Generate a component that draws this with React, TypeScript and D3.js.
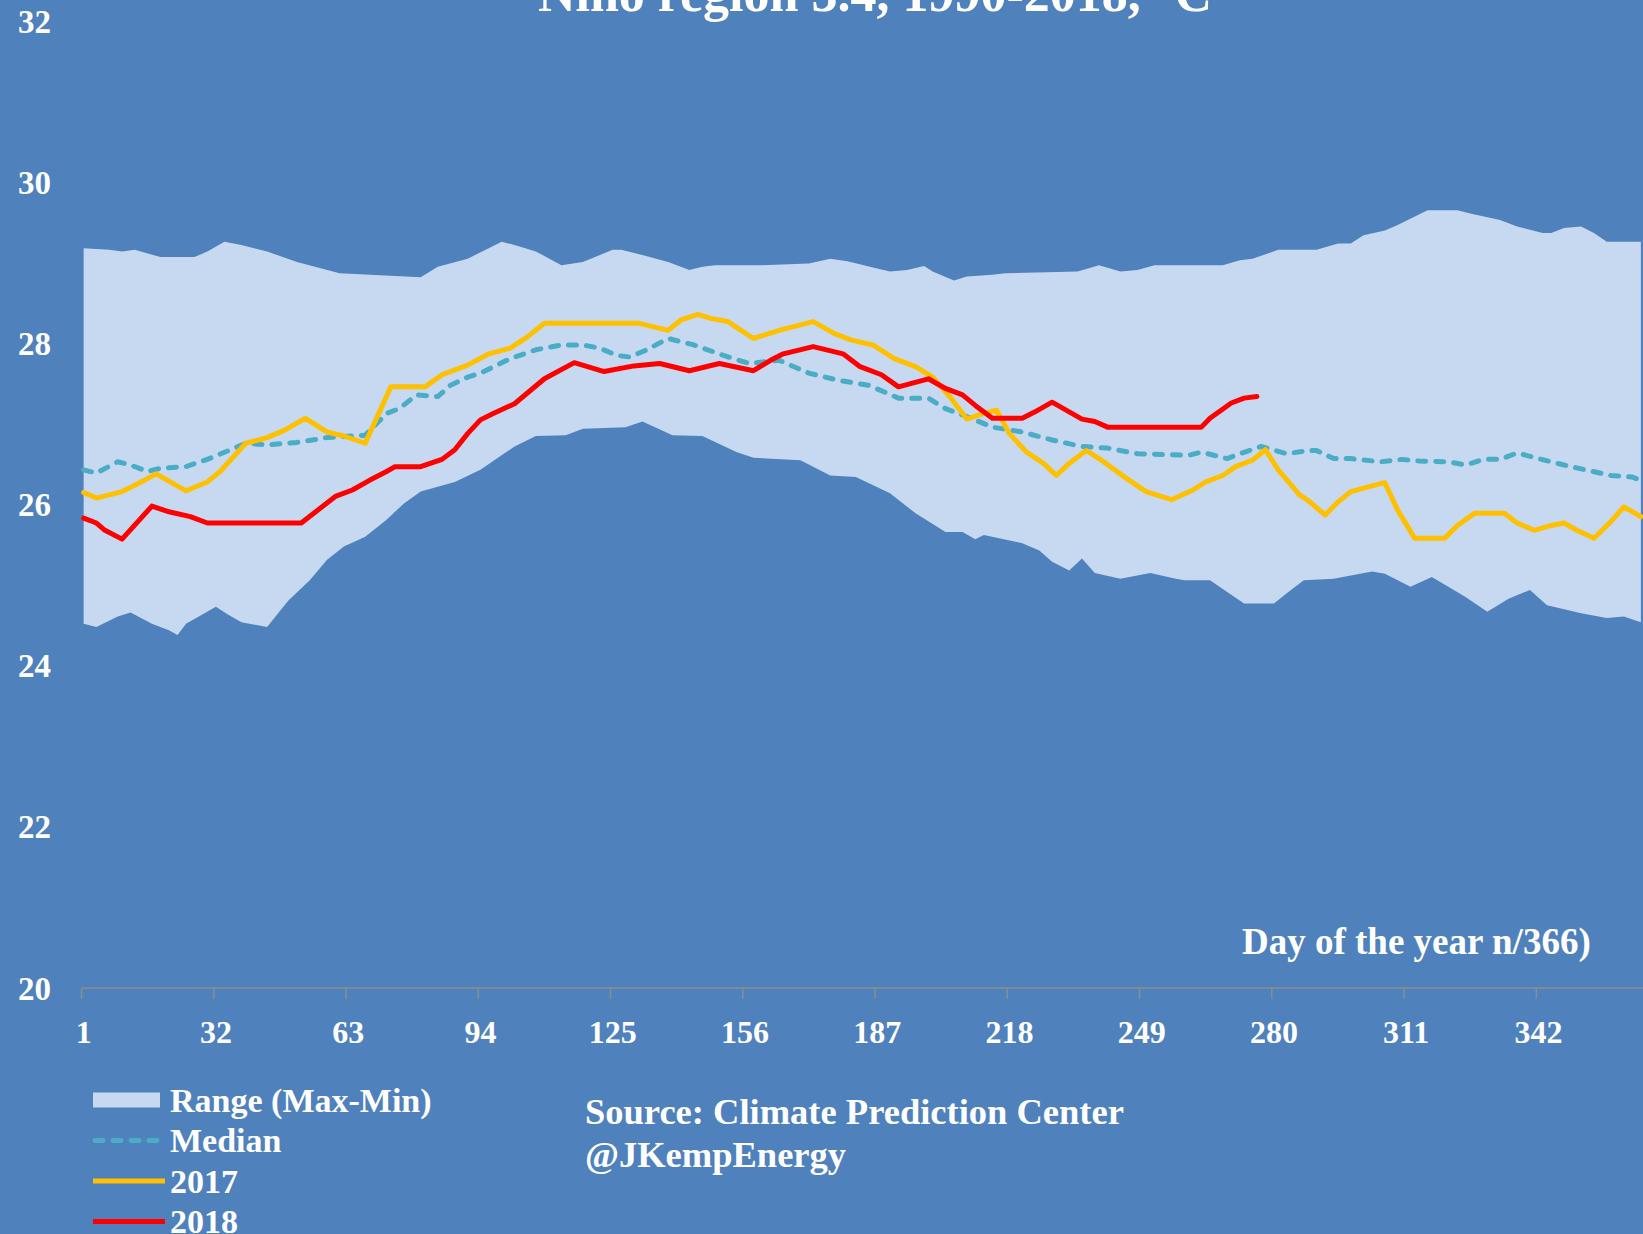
import * as d3 from 'd3'
import React from 'react'

const W = 1643
const H = 1234

// range band (day of year, °C)
const maxDays = [1, 7, 10, 13, 19, 27, 30, 34, 38, 44, 51, 61, 80, 84, 91, 99, 102, 107, 113, 118, 125, 127, 131, 138, 143, 146, 149, 160, 171, 176, 180, 187, 190, 194, 198, 200, 205, 208, 214, 217, 234, 239, 244, 248, 252, 268, 272, 275, 281, 290, 295, 298, 301, 306, 309, 316, 323, 326, 333, 337, 343, 345, 348, 352, 355, 358, 366]
const maxVals = [29.18, 29.16, 29.14, 29.16, 29.07, 29.07, 29.14, 29.26, 29.22, 29.14, 29.01, 28.87, 28.82, 28.95, 29.05, 29.26, 29.22, 29.14, 28.97, 29.01, 29.16, 29.16, 29.11, 29.01, 28.91, 28.95, 28.97, 28.97, 28.99, 29.05, 29.02, 28.93, 28.89, 28.91, 28.96, 28.89, 28.78, 28.83, 28.85, 28.87, 28.89, 28.97, 28.89, 28.91, 28.97, 28.97, 29.03, 29.05, 29.16, 29.16, 29.24, 29.24, 29.34, 29.40, 29.47, 29.65, 29.65, 29.61, 29.53, 29.45, 29.37, 29.37, 29.43, 29.45, 29.37, 29.26, 29.26]
const minDays = [1, 4, 9, 12, 17, 21, 23, 25, 28, 32, 35, 38, 44, 49, 54, 58, 62, 67, 72, 76, 80, 84, 88, 94, 102, 107, 114, 118, 128, 132, 139, 146, 154, 158, 169, 176, 182, 190, 196, 203, 207, 210, 212, 221, 225, 228, 232, 235, 238, 244, 251, 257, 259, 265, 273, 280, 283, 287, 294, 303, 306, 312, 317, 325, 330, 335, 340, 344, 352, 358, 362, 366]
const minVals = [24.52, 24.48, 24.61, 24.66, 24.52, 24.44, 24.38, 24.52, 24.61, 24.73, 24.63, 24.54, 24.48, 24.81, 25.06, 25.31, 25.48, 25.60, 25.81, 26.01, 26.16, 26.22, 26.28, 26.43, 26.72, 26.85, 26.86, 26.94, 26.96, 27.03, 26.86, 26.85, 26.65, 26.58, 26.55, 26.36, 26.34, 26.14, 25.89, 25.66, 25.66, 25.57, 25.62, 25.52, 25.43, 25.29, 25.18, 25.33, 25.15, 25.08, 25.15, 25.08, 25.06, 25.06, 24.77, 24.77, 24.90, 25.06, 25.08, 25.17, 25.14, 24.98, 25.10, 24.85, 24.67, 24.83, 24.94, 24.75, 24.65, 24.59, 24.61, 24.54]

const medianDays = [1, 4, 9, 12, 16, 19, 25, 30, 35, 39, 44, 51, 58, 67, 72, 75, 79, 84, 87, 91, 94, 101, 107, 113, 118, 122, 126, 129, 133, 138, 144, 151, 157, 164, 171, 178, 185, 192, 199, 203, 208, 214, 221, 228, 235, 241, 248, 260, 263, 269, 272, 277, 283, 288, 290, 294, 298, 305, 310, 314, 321, 325, 329, 333, 337, 342, 348, 353, 359, 364, 366]
const medianVals = [26.43, 26.39, 26.53, 26.49, 26.41, 26.45, 26.47, 26.56, 26.67, 26.76, 26.74, 26.77, 26.83, 26.86, 27.13, 27.19, 27.36, 27.34, 27.48, 27.58, 27.63, 27.81, 27.92, 27.98, 27.98, 27.94, 27.85, 27.83, 27.92, 28.06, 27.98, 27.85, 27.75, 27.79, 27.63, 27.54, 27.48, 27.32, 27.32, 27.19, 27.09, 26.96, 26.90, 26.80, 26.72, 26.70, 26.63, 26.61, 26.65, 26.57, 26.63, 26.72, 26.63, 26.67, 26.67, 26.57, 26.57, 26.53, 26.56, 26.54, 26.53, 26.49, 26.56, 26.56, 26.64, 26.57, 26.49, 26.43, 26.36, 26.34, 26.30]

const days2017 = [1, 4, 10, 13, 18, 25, 30, 33, 39, 44, 48, 53, 58, 62, 67, 73, 81, 85, 91, 96, 101, 105, 109, 131, 138, 141, 145, 148, 152, 158, 164, 172, 177, 181, 186, 191, 196, 200, 204, 208, 212, 215, 218, 222, 226, 229, 232, 236, 239, 245, 250, 256, 261, 264, 268, 271, 275, 278, 281, 286, 288, 292, 295, 298, 305, 306, 309, 313, 320, 323, 327, 334, 337, 341, 345, 348, 351, 355, 359, 362, 366]
const vals2017 = [26.15, 26.08, 26.16, 26.24, 26.38, 26.17, 26.28, 26.41, 26.76, 26.83, 26.92, 27.07, 26.90, 26.85, 26.76, 27.46, 27.46, 27.61, 27.73, 27.87, 27.94, 28.08, 28.25, 28.25, 28.16, 28.29, 28.36, 28.31, 28.27, 28.06, 28.16, 28.27, 28.12, 28.04, 27.98, 27.81, 27.71, 27.58, 27.34, 27.06, 27.13, 27.17, 26.88, 26.65, 26.51, 26.36, 26.51, 26.67, 26.57, 26.34, 26.16, 26.06, 26.18, 26.28, 26.36, 26.47, 26.55, 26.68, 26.43, 26.12, 26.05, 25.87, 26.03, 26.16, 26.26, 26.27, 25.93, 25.58, 25.58, 25.74, 25.89, 25.89, 25.77, 25.68, 25.74, 25.77, 25.68, 25.58, 25.79, 25.97, 25.85]

const days2018 = [1, 4, 6, 10, 17, 21, 26, 30, 52, 60, 64, 68, 72, 74, 80, 85, 88, 91, 94, 97, 102, 109, 116, 123, 130, 136, 143, 150, 158, 162, 165, 172, 179, 183, 188, 192, 199, 203, 207, 210, 214, 221, 224, 228, 232, 235, 238, 241, 263, 265, 270, 273, 276]
const vals2018 = [25.83, 25.77, 25.68, 25.57, 25.98, 25.91, 25.85, 25.77, 25.77, 26.10, 26.18, 26.30, 26.41, 26.47, 26.47, 26.56, 26.68, 26.88, 27.05, 27.13, 27.25, 27.56, 27.76, 27.65, 27.72, 27.75, 27.66, 27.75, 27.66, 27.79, 27.87, 27.96, 27.87, 27.71, 27.61, 27.46, 27.56, 27.44, 27.36, 27.23, 27.07, 27.07, 27.15, 27.27, 27.15, 27.06, 27.03, 26.96, 26.96, 27.07, 27.26, 27.32, 27.34]

const yTicks = [20, 22, 24, 26, 28, 30, 32]
const xTicks = [1, 32, 63, 94, 125, 156, 187, 218, 249, 280, 311, 342]

const font = '"Liberation Serif", "Times New Roman", serif'
const bg = '#4F81BD'

type P = [number, number]
const zip = (ds: number[], vs: number[]): P[] => ds.map((d, i) => [d, vs[i]])

export default function App() {
  const
    x = d3.scaleLinear().domain([0.5, 366.5]).range([81.5, 1643]),
    y = d3.scaleLinear().domain([20, 32]).range([988, 21]),
    ln = d3.line<P>().x(d => x(d[0])).y(d => y(d[1])),
    band = ln([...zip(maxDays, maxVals), ...zip(minDays, minVals).reverse()]) + 'Z',
    legend = [
      { label: 'Range (Max-Min)', kind: 'band' },
      { label: 'Median', kind: 'median' },
      { label: '2017', kind: 'y2017' },
      { label: '2018', kind: 'y2018' },
    ]

  return (
    <svg width={W} height={H} style={{ position: 'absolute', left: 0, top: 0, display: 'block' }} fontFamily={font}>
      <rect width={W} height={H} fill={bg} />
      <text x={875} y={11} fontSize={52} fontWeight='bold' fill='#fff' textAnchor='middle'>Nino region 3.4, 1990-2018, °C</text>

      <path d={band} fill='#C6D9F1' />
      <path d={ln(zip(medianDays, medianVals)) as string} fill='none' stroke='#4BACC6' strokeWidth={5} strokeDasharray='8 10' strokeLinecap='round' strokeLinejoin='round' />
      <path d={ln(zip(days2017, vals2017)) as string} fill='none' stroke='#FFC000' strokeWidth={5} strokeLinejoin='round' strokeLinecap='round' />
      <path d={ln(zip(days2018, vals2018)) as string} fill='none' stroke='#FF0000' strokeWidth={5} strokeLinejoin='round' strokeLinecap='round' />

      {/* y axis labels, no axis line */}
      {yTicks.map(t =>
        <text key={t} x={51} y={y(t)} dy='0.35em' textAnchor='end' fontSize={33} fontWeight='bold' fill='#fff'>{t}</text>
      )}

      {/* x axis */}
      <line x1={x(0.5)} x2={W} y1={y(20)} y2={y(20)} stroke='#8C8C8C' strokeWidth={1.5} />
      {xTicks.map(t =>
        <g key={t}>
          <line x1={x(t - 0.5)} x2={x(t - 0.5)} y1={y(20)} y2={y(20) + 11} stroke='#8C8C8C' strokeWidth={1.5} />
          <text x={x(t)} y={1043} textAnchor='middle' fontSize={32} fontWeight='bold' fill='#fff'>{t}</text>
        </g>
      )}
      <text x={1242} y={954} fontSize={37} fontWeight='bold' fill='#fff'>Day of the year n/366)</text>

      {/* legend */}
      {legend.map((l, i) => {
        const cy = 1100 + i * 40.5
        return (
          <g key={l.label}>
            {l.kind === 'band' && <rect x={93} y={cy - 7.5} width={67} height={15} fill='#C6D9F1' />}
            {l.kind === 'median' && <line x1={95} x2={157} y1={cy} y2={cy} stroke='#4BACC6' strokeWidth={5} strokeDasharray='8 10' strokeLinecap='round' />}
            {l.kind === 'y2017' && <line x1={93} x2={165} y1={cy} y2={cy} stroke='#FFC000' strokeWidth={5} />}
            {l.kind === 'y2018' && <line x1={93} x2={165} y1={cy} y2={cy} stroke='#FF0000' strokeWidth={5} />}
            <text x={170} y={cy} dy='0.35em' fontSize={34} fontWeight='bold' fill='#fff'>{l.label}</text>
          </g>
        )
      })}

      <text x={585} y={1124} fontSize={36.5} fontWeight='bold' fill='#fff'>Source: Climate Prediction Center</text>
      <text x={585} y={1167} fontSize={36.5} fontWeight='bold' fill='#fff'>@JKempEnergy</text>
    </svg>
  )
}
